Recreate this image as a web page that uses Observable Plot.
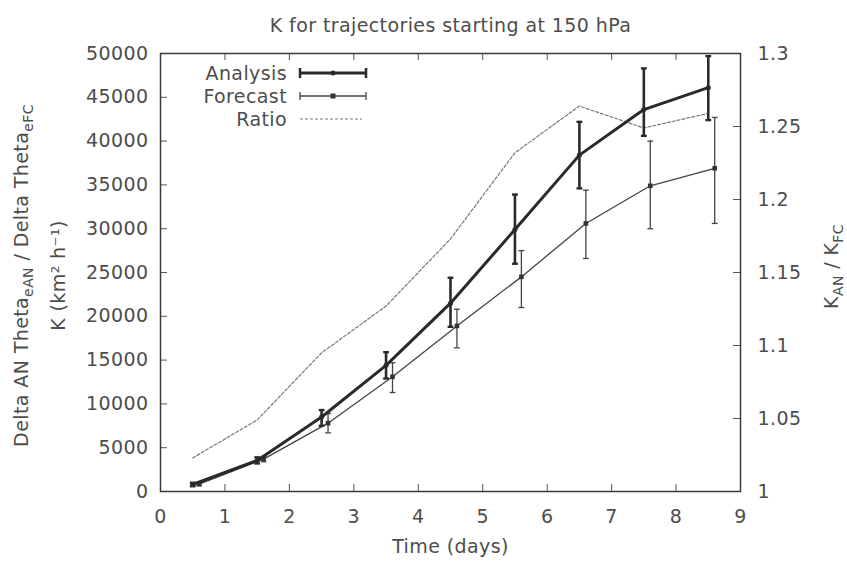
<!DOCTYPE html>
<html>
<head>
<meta charset="utf-8">
<script src="https://cdn.jsdelivr.net/npm/d3@7"></script>
<script src="https://cdn.jsdelivr.net/npm/@observablehq/plot@0.6"></script>
<style>
  html, body { margin: 0; padding: 0; background: #fff; }
  #chart svg { display: block; }
</style>
</head>
<body>
<div id="chart"></div>
<script>
// ---- data ----
const days = [0.5, 1.5, 2.5, 3.5, 4.5, 5.5, 6.5, 7.5, 8.5];
const analysis   = [800, 3550, 8500, 14400, 21500, 29900, 38400, 43600, 46100];
const analysisLo = [600, 3200, 7500, 12900, 18800, 26000, 34600, 40600, 42400];
const analysisHi = [1000, 3900, 9300, 15900, 24400, 33900, 42200, 48300, 49700];
const forecastDays = [0.6, 1.6, 2.6, 3.6, 4.6, 5.6, 6.6, 7.6, 8.6];
const forecast   = [850, 3700, 7800, 13100, 18900, 24500, 30600, 34900, 36900];
const forecastLo = [650, 3400, 6700, 11300, 16400, 21000, 26600, 30000, 30600];
const forecastHi = [1050, 4000, 8900, 14700, 20800, 27500, 34400, 40000, 42700];
const ratio = [1.023, 1.049, 1.095, 1.127, 1.173, 1.232, 1.264, 1.249, 1.259];

const xTicks = [0, 1, 2, 3, 4, 5, 6, 7, 8, 9];
const yTicks = [0, 5000, 10000, 15000, 20000, 25000, 30000, 35000, 40000, 45000, 50000];
const ratioTicks = [1, 1.05, 1.1, 1.15, 1.2, 1.25, 1.3];
const ratioTickLabels = ["1", "1.05", "1.1", "1.15", "1.2", "1.25", "1.3"];

const legendLabels = ["Analysis", "Forecast", "Ratio"];

const titleText = "K for trajectories starting at 150 hPa";
const xLabel = "Time (days)";
const yLabel1 = "Delta AN Theta_eAN / Delta Theta_eFC";
const yLabel2 = "K (km\u00B2 h\u207B\u00B9)";
const y2Label = "K_AN / K_FC";

// ---- mapping of right axis (ratio 1..1.3) onto left axis (0..50000) ----
const rMin = 1, rMax = 1.3, kMax = 50000;
const toK = r => (r - rMin) / (rMax - rMin) * kMax;

const A = days.map((d, i) => ({x: d, y: analysis[i], lo: analysisLo[i], hi: analysisHi[i]}));
const F = forecastDays.map((d, i) => ({x: d, y: forecast[i], lo: forecastLo[i], hi: forecastHi[i]}));
const R = days.map((d, i) => ({x: d, y: toK(ratio[i])}));

const W = 847, H = 563;
const mL = 160, mR = 107, mT = 53, mB = 72;
const pw = W - mL - mR, ph = H - mT - mB;
const tick = 7;
const capHalf = 0.045;

const ink = "#2a2a2a";
const textCol = "#4d4d4d";
const FS = 19;

function legendMark(index, scales, values, dims) {
  const g = d3.create("svg:g");
  const xr = dims.marginLeft + 127;
  const s0 = dims.marginLeft + 140, s1 = dims.marginLeft + 206, sm = (s0 + s1) / 2;
  const rows = [dims.marginTop + 20, dims.marginTop + 43, dims.marginTop + 66];
  legendLabels.forEach((lab, i) => {
    g.append("text").attr("x", xr).attr("y", rows[i]).attr("dy", "0.35em")
      .attr("text-anchor", "end").attr("fill", textCol).attr("font-size", FS)
      .attr("letter-spacing", "0.4px").text(lab);
  });
  // Analysis
  const a = g.append("g").attr("stroke", ink);
  a.append("line").attr("x1", s0).attr("x2", s1).attr("y1", rows[0]).attr("y2", rows[0]).attr("stroke-width", 3);
  a.append("line").attr("x1", s0).attr("x2", s0).attr("y1", rows[0] - 5).attr("y2", rows[0] + 5).attr("stroke-width", 2.5);
  a.append("line").attr("x1", s1).attr("x2", s1).attr("y1", rows[0] - 5).attr("y2", rows[0] + 5).attr("stroke-width", 2.5);
  g.append("circle").attr("cx", sm).attr("cy", rows[0]).attr("r", 2.5).attr("fill", ink);
  // Forecast
  const f = g.append("g").attr("stroke", "#444");
  f.append("line").attr("x1", s0).attr("x2", s1).attr("y1", rows[1]).attr("y2", rows[1]).attr("stroke-width", 1.3);
  f.append("line").attr("x1", s0).attr("x2", s0).attr("y1", rows[1] - 4).attr("y2", rows[1] + 4).attr("stroke-width", 1.3);
  f.append("line").attr("x1", s1).attr("x2", s1).attr("y1", rows[1] - 4).attr("y2", rows[1] + 4).attr("stroke-width", 1.3);
  g.append("rect").attr("x", sm - 2.5).attr("y", rows[1] - 2.5).attr("width", 5).attr("height", 5).attr("fill", "#333");
  // Ratio
  g.append("line").attr("x1", s0).attr("x2", s1 - 4).attr("y1", rows[2]).attr("y2", rows[2])
    .attr("stroke", "#777").attr("stroke-width", 1.2).attr("stroke-dasharray", "3,2");
  return g.node();
}

const plot = Plot.plot({
  width: W, height: H,
  marginLeft: mL, marginRight: mR, marginTop: mT, marginBottom: mB,
  style: {fontFamily: "'DejaVu Sans', Verdana, sans-serif", fontSize: FS + "px", color: textCol, background: "#fff", letterSpacing: "0.4px"},
  x: {domain: [0, 9]},
  y: {domain: [0, 50000]},
  marks: [
    // axes labels (no outward ticks)
    Plot.axisX(xTicks, {tickSize: 0, tickPadding: 18, fontSize: FS, label: null}),
    Plot.axisY(yTicks, {tickSize: 0, tickPadding: 12, fontSize: FS, label: null, tickFormat: d => String(d)}),
    Plot.axisY(ratioTicks.map(toK), {anchor: "right", tickSize: 0, tickPadding: 17, fontSize: FS, label: null,
      tickFormat: (d, i) => ratioTickLabels[i]}),
    // inward ticks
    Plot.ruleX(xTicks, {stroke: "#555", strokeWidth: 1, insetTop: ph - tick}),
    Plot.ruleX(xTicks, {stroke: "#555", strokeWidth: 1, insetBottom: ph - tick}),
    Plot.ruleY(yTicks, {stroke: "#555", strokeWidth: 1, insetRight: pw - tick}),
    Plot.ruleY(ratioTicks.map(toK), {stroke: "#555", strokeWidth: 1, insetLeft: pw - tick}),
    // ratio
    Plot.line(R, {x: "x", y: "y", stroke: "#777", strokeWidth: 1.2, strokeDasharray: "3,2"}),
    // forecast
    Plot.line(F, {x: "x", y: "y", stroke: "#444", strokeWidth: 1.3}),
    Plot.ruleX(F, {x: "x", y1: "lo", y2: "hi", stroke: "#444", strokeWidth: 1.3}),
    Plot.link(F, {x1: d => d.x - capHalf, x2: d => d.x + capHalf, y1: "lo", y2: "lo", stroke: "#444", strokeWidth: 1.3}),
    Plot.link(F, {x1: d => d.x - capHalf, x2: d => d.x + capHalf, y1: "hi", y2: "hi", stroke: "#444", strokeWidth: 1.3}),
    Plot.dot(F, {x: "x", y: "y", symbol: "square", r: 2.6, fill: "#333"}),
    // analysis
    Plot.line(A, {x: "x", y: "y", stroke: ink, strokeWidth: 3}),
    Plot.ruleX(A, {x: "x", y1: "lo", y2: "hi", stroke: ink, strokeWidth: 2.6}),
    Plot.link(A, {x1: d => d.x - capHalf, x2: d => d.x + capHalf, y1: "lo", y2: "lo", stroke: ink, strokeWidth: 2.4}),
    Plot.link(A, {x1: d => d.x - capHalf, x2: d => d.x + capHalf, y1: "hi", y2: "hi", stroke: ink, strokeWidth: 2.4}),
    Plot.dot(A, {x: "x", y: "y", r: 2.5, fill: ink}),
    // frame
    Plot.frame({stroke: "#3a3a3a", strokeWidth: 1.5}),
    // titles
    Plot.text([titleText], {frameAnchor: "top", dy: -35, fontSize: FS, fill: textCol, textAnchor: "middle"}),
    Plot.text([xLabel], {frameAnchor: "bottom", dy: 61, fontSize: FS, fill: textCol, textAnchor: "middle"}),
    Plot.text([yLabel1], {frameAnchor: "left", rotate: -90, dx: -139, dy: 3, fontSize: FS, fill: textCol, textAnchor: "middle"}),
    Plot.text([yLabel2], {frameAnchor: "left", rotate: -90, dx: -102, dy: 3, fontSize: FS, fill: textCol, textAnchor: "middle"}),
    Plot.text([y2Label], {frameAnchor: "right", rotate: -90, dx: 91, dy: -6, fontSize: FS, fill: textCol, textAnchor: "middle"}),
    legendMark
  ]
});

// subscripts
function subscriptify(svg, raw) {
  d3.select(svg).selectAll("text").filter(function () { return this.textContent === raw; }).each(function () {
    const t = d3.select(this);
    t.text(null);
    const parts = raw.split(/(_[A-Za-z]+)/).filter(s => s.length);
    let lowered = false;
    parts.forEach(p => {
      if (p.startsWith("_")) {
        t.append("tspan").attr("dy", 5).attr("font-size", 14).text(p.slice(1));
        lowered = true;
      } else {
        const sp = t.append("tspan").text(p);
        if (lowered) { sp.attr("dy", -5); lowered = false; }
      }
    });
  });
}
subscriptify(plot, yLabel1);
subscriptify(plot, y2Label);

document.getElementById("chart").appendChild(plot);
</script>
</body>
</html>
